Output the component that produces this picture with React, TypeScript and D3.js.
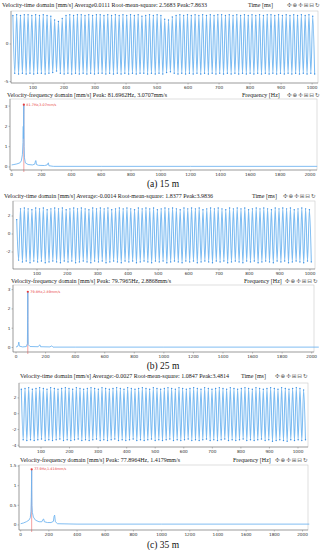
import React from 'react'
import * as d3 from 'd3'

// ---- data ----
const TIME_TICKS = [100, 200, 300, 400, 500, 600, 700, 800, 900, 1000]
const FREQ_TICKS = [0, 200, 400, 600, 800, 1000, 1200, 1400, 1600, 1800, 2000]

// per-cycle extremes of the velocity signal (mm/s)
const peaksA = [
  3.8, 3.9, 3.8, 3.9, 3.9, 3.8, 3.9, 3.8, 3.9, 3.8, 3.7, 3.2, 3.0, 3.4, 3.8, 3.9, 3.8, 3.9, 3.9, 3.8,
  3.9, 3.8, 3.9, 3.9, 3.8, 3.9, 3.8, 3.9, 3.8, 3.9, 3.8, 3.9, 3.8, 3.9, 3.7, 3.8, 3.9, 3.8, 3.9, 3.8,
  3.3, 3.2, 3.6, 3.8, 3.9, 3.8, 3.9, 3.8, 3.9, 3.8, 3.9, 3.8, 3.9, 3.8, 3.9, 3.9, 3.8, 3.9, 3.8, 3.9,
  3.8, 3.9, 3.8, 3.9, 3.8, 3.9, 3.8, 3.9, 3.9, 3.8, 3.9, 3.8, 3.9, 3.8, 3.9, 3.8, 3.9, 3.8, 3.9, 3.7,
]
const troughsA = [
  -3.9, -4.0, -3.9, -4.0, -3.9, -4.0, -3.9, -3.9, -4.0, -3.9, -3.8, -3.6, -3.9, -4.0, -3.9, -4.0, -3.9, -4.0, -3.9, -4.0,
  -3.9, -4.0, -3.9, -3.9, -4.0, -3.9, -4.0, -3.9, -4.0, -3.9, -4.0, -3.9, -4.0, -3.9, -3.9, -4.0, -3.9, -4.0, -3.9, -4.0,
  -3.8, -3.7, -3.9, -4.0, -3.9, -4.0, -3.9, -4.0, -3.9, -4.0, -3.9, -4.0, -3.9, -4.0, -3.9, -4.0, -3.9, -4.0, -3.9, -4.0,
  -3.9, -4.0, -3.9, -4.0, -3.9, -4.0, -3.9, -4.0, -3.9, -4.0, -3.9, -4.0, -3.9, -4.0, -3.9, -4.0, -3.9, -4.0, -3.9, -4.0,
]
const peaksB = [
  1.6, 2.8, 2.9, 2.8, 2.7, 2.9, 2.8, 2.9, 2.7, 2.8, 2.9, 2.8, 2.9, 2.7, 2.8, 2.9, 2.8, 2.9, 2.8, 2.7,
  2.9, 2.8, 2.9, 2.8, 2.9, 2.7, 2.8, 2.9, 2.8, 2.9, 2.8, 2.7, 2.9, 2.8, 2.9, 2.8, 2.9, 2.7, 2.8, 2.9,
  2.8, 2.9, 2.8, 2.7, 2.9, 2.8, 2.9, 2.8, 2.9, 2.7, 2.8, 2.9, 2.8, 2.9, 2.8, 2.7, 2.9, 2.8, 2.9, 2.8,
  2.9, 2.7, 2.8, 2.9, 2.8, 2.9, 2.8, 2.7, 2.9, 2.8, 2.9, 2.8, 2.9, 2.7, 2.8, 2.9, 2.8, 2.7,
]
const troughsB = [
  -2.9, -3.1, -3.0, -3.2, -3.0, -3.1, -3.0, -3.2, -3.1, -3.0, -3.1, -3.2, -3.0, -3.1, -3.0, -3.2, -3.1, -3.0, -3.1, -3.2,
  -3.0, -3.1, -3.0, -3.2, -3.1, -3.0, -3.1, -3.2, -3.0, -3.1, -3.0, -3.2, -3.1, -3.0, -3.1, -3.2, -3.0, -3.1, -3.0, -3.2,
  -3.1, -3.0, -3.1, -3.2, -3.0, -3.1, -3.0, -3.2, -3.1, -3.0, -3.1, -3.2, -3.0, -3.1, -3.0, -3.2, -3.1, -3.0, -3.1, -3.2,
  -3.0, -3.1, -3.0, -3.2, -3.1, -3.0, -3.1, -3.2, -3.0, -3.1, -3.0, -3.2, -3.1, -3.0, -3.1, -3.2, -3.0, -3.1,
]
const peaksC = [
  3.1, 3.2, 3.3, 3.1, 3.2, 3.3, 3.2, 3.1, 3.3, 3.2, 3.1, 3.2, 3.3, 3.2, 3.1, 3.3, 3.2, 3.1, 3.2, 3.3,
  3.2, 3.1, 3.3, 3.2, 3.1, 3.2, 3.3, 3.2, 3.1, 3.3, 3.2, 3.1, 3.2, 3.3, 3.2, 3.1, 3.3, 3.2, 3.1, 3.2,
  3.3, 3.2, 3.1, 3.3, 3.2, 3.1, 3.2, 3.3, 3.2, 3.1, 3.3, 3.2, 3.1, 3.2, 3.3, 3.2, 3.1, 3.3, 3.2, 3.1,
  3.2, 3.3, 3.2, 3.1, 3.3, 3.2, 3.1, 3.2, 3.3, 3.2, 3.1, 3.3, 3.2, 3.1, 3.2, 3.3, 3.2, 3.0,
]
const troughsC = [
  -3.3, -3.4, -3.3, -3.4, -3.3, -3.2, -3.4, -3.3, -3.4, -3.3, -3.2, -3.4, -3.3, -3.4, -3.3, -3.2, -3.4, -3.3, -3.4, -3.3,
  -3.2, -3.4, -3.3, -3.4, -3.3, -3.2, -3.4, -3.3, -3.4, -3.3, -3.2, -3.4, -3.3, -3.4, -3.3, -3.2, -3.4, -3.3, -3.4, -3.3,
  -3.2, -3.4, -3.3, -3.4, -3.3, -3.2, -3.4, -3.3, -3.4, -3.3, -3.2, -3.4, -3.3, -3.4, -3.3, -3.2, -3.4, -3.3, -3.4, -3.3,
  -3.2, -3.4, -3.3, -3.4, -3.3, -3.2, -3.4, -3.3, -3.5, -3.4, -3.3, -3.4, -3.5, -3.3, -3.4, -3.3, -3.4, -3.3,
]

// spectra: [Hz, mm/s]
const specA: [number, number][] = [
  [0, 0.1], [15, 0.12], [35, 0.15], [55, 0.2], [65, 0.3], [72, 0.6], [76, 1.2], [78, 2.0], [79, 1.4], [80.5, 2.6],
  [81.7, 3.07], [82.5, 2.1], [83.5, 1.0], [86, 0.45], [92, 0.2], [110, 0.12], [140, 0.1], [155, 0.14], [160, 0.3],
  [163, 0.32], [166, 0.12], [180, 0.08], [220, 0.07], [238, 0.1], [243, 0.18], [246, 0.2], [250, 0.06], [280, 0.03],
  [600, 0.03], [1200, 0.03], [2048, 0.03],
]
const specB: [number, number][] = [
  [0, 0.03], [10, 0.05], [16, 0.15], [19, 0.28], [23, 0.07], [45, 0.03], [70, 0.05], [77, 0.2], [79, 1.6],
  [79.8, 2.89], [80.7, 1.3], [82.5, 0.15], [95, 0.05], [150, 0.04], [158, 0.12], [162, 0.14], [166, 0.04],
  [230, 0.03], [239, 0.08], [244, 0.07], [250, 0.02], [400, 0.02], [1000, 0.02], [2048, 0.02],
]
const specC: [number, number][] = [
  [0, 0.03], [20, 0.05], [40, 0.08], [58, 0.12], [68, 0.18], [73, 0.35], [75.5, 0.7], [77, 1.1], [77.9, 1.418],
  [78.8, 0.9], [80, 0.5], [83, 0.32], [90, 0.2], [105, 0.12], [130, 0.08], [150, 0.08], [158, 0.14], [163, 0.15],
  [168, 0.08], [190, 0.06], [215, 0.06], [232, 0.09], [237, 0.22], [241, 0.25], [246, 0.08], [262, 0.03],
  [400, 0.02], [1000, 0.02], [2048, 0.02],
]

const FONT_SERIF = 'Liberation Serif, Times New Roman, serif'
const FONT_SANS = 'DejaVu Sans, sans-serif'

type Box = { l: number; r: number; t: number; b: number }

function Toolbar({ x, y }: { x: number; y: number }) {
  return (
    <text x={x} y={y} fontFamily={FONT_SANS} fontSize={5.6} fill="#555" letterSpacing={0.9}>
      ✣⊕✢⊞⊟↻
    </text>
  )
}

function Frame({ box }: { box: Box }) {
  return (
    <rect x={box.l} y={box.t} width={box.r - box.l} height={box.b - box.t}
      fill="#fff" stroke="#c9c9c9" strokeWidth={0.6} />
  )
}

function Axes({ box, x, y, xTicks, yTicks }: any) {
  return (
    <g fontFamily={FONT_SANS} fontSize={4.2} fill="#333">
      <line x1={box.l} x2={box.r} y1={box.b} y2={box.b} stroke="#666" strokeWidth={0.5} />
      <line x1={box.l} x2={box.l} y1={box.t} y2={box.b} stroke="#666" strokeWidth={0.5} />
      {xTicks.map((t: number) => (
        <g key={'x' + t}>
          <line x1={x(t)} x2={x(t)} y1={box.b} y2={box.b + 1.5} stroke="#666" strokeWidth={0.4} />
          <text x={x(t)} y={box.b + 5.5} textAnchor="middle">{t}</text>
        </g>
      ))}
      {yTicks.map((t: number) => (
        <g key={'y' + t}>
          <line x1={box.l - 1.5} x2={box.l} y1={y(t)} y2={y(t)} stroke="#666" strokeWidth={0.4} />
          <text x={box.l - 2.5} y={y(t) + 1.4} textAnchor="end">{t}</text>
        </g>
      ))}
    </g>
  )
}

function TimePanel({ box, xDomain, yDomain, yTicks, peaks, troughs, freq, t0, title, titleX, titleY, unitX, barX }: any) {
  const x = d3.scaleLinear().domain(xDomain).range([box.l, box.r])
  const y = d3.scaleLinear().domain(yDomain).range([box.b, box.t])
  const period = 1000 / freq
  const pts: { t: number; v: number }[] = []
  peaks.forEach((p: number, i: number) => {
    pts.push({ t: t0 + (i + 0.25) * period, v: p })
    pts.push({ t: t0 + (i + 0.75) * period, v: troughs[i] })
  })
  const line = d3.line<{ t: number; v: number }>().x(d => x(d.t)).y(d => y(d.v)).curve(d3.curveMonotoneX)
  return (
    <g>
      <text x={titleX} y={titleY} fontFamily={FONT_SERIF} fontSize={6} fill="#222">{title}</text>
      <text x={unitX} y={titleY} fontFamily={FONT_SERIF} fontSize={6} fill="#222">Time [ms]</text>
      <Toolbar x={barX} y={titleY} />
      <Frame box={box} />
      <path d={line(pts) || ''} fill="none" stroke="#7dbcf2" strokeWidth={1.05} />
      {pts.map((d, i) => (
        <circle key={i} cx={x(d.t)} cy={y(d.v)} r={0.7} fill="#3b8fe2" />
      ))}
      <Axes box={box} x={x} y={y} xTicks={TIME_TICKS} yTicks={yTicks} />
    </g>
  )
}

function FreqPanel({ box, xDomain, yDomain, yTicks, spec, title, titleX, titleY, unitX, barX, caption, captionY }: any) {
  const x = d3.scaleLinear().domain(xDomain).range([box.l, box.r])
  const y = d3.scaleLinear().domain(yDomain).range([box.b, box.t])
  const line = d3.line<[number, number]>().x(d => x(d[0])).y(d => y(d[1]))
  const peak = spec.reduce((a: [number, number], b: [number, number]) => (b[1] > a[1] ? b : a))
  const label = `${peak[0]}Hz,${peak[1]}mm/s`
  return (
    <g>
      <text x={titleX} y={titleY} fontFamily={FONT_SERIF} fontSize={6} fill="#222">{title}</text>
      <text x={unitX} y={titleY} fontFamily={FONT_SERIF} fontSize={6} fill="#222">Frequency [Hz]</text>
      <Toolbar x={barX} y={titleY} />
      <Frame box={box} />
      <line x1={x(peak[0])} x2={x(peak[0])} y1={y(peak[1])} y2={box.b + 2} stroke="#f07a7a" strokeWidth={0.7} />
      <path d={line(spec) || ''} fill="none" stroke="#6cb2f0" strokeWidth={0.85} />
      <circle cx={x(peak[0])} cy={y(peak[1])} r={1.1} fill="#e83a3a" />
      <text x={x(peak[0]) + 2.5} y={y(peak[1]) + 1.2} fontFamily={FONT_SANS} fontSize={3.4} fill="#e83a3a">{label}</text>
      <Axes box={box} x={x} y={y} xTicks={FREQ_TICKS} yTicks={yTicks} />
      <text x={163} y={captionY} textAnchor="middle" fontFamily={FONT_SERIF} fontSize={9.5} fill="#111">{caption}</text>
    </g>
  )
}

export default function App() {
  return (
    <svg width={326} height={550} style={{ position: 'absolute', left: 0, top: 0, background: '#fff' }}>
      <TimePanel box={{ l: 11, r: 318, t: 11, b: 83 }} xDomain={[29, 1019]} yDomain={[-5.2, 4.4]} yTicks={[-5, 0]}
        peaks={peaksA} troughs={troughsA} freq={81.6962} t0={32}
        title="Velocity-time domain [mm/s] Average0.0111 Root-mean-square: 2.5683 Peak:7.8633"
        titleX={2} titleY={6.5} unitX={248} barX={287} />
      <FreqPanel box={{ l: 10, r: 317, t: 99, b: 170 }} xDomain={[-11, 2047]} yDomain={[-0.15, 3.35]} yTicks={[0, 1, 2, 3]}
        spec={specA} title="Velocity-frequency domain [mm/s] Peak: 81.6962Hz, 3.0707mm/s"
        titleX={7} titleY={97} unitX={242} barX={287} caption="(a) 15 m" captionY={187} />

      <TimePanel box={{ l: 13, r: 315, t: 201, b: 269 }} xDomain={[20.9, 1016.5]} yDomain={[-3.89, 3.67]} yTicks={[-2, 0, 2]}
        peaks={peaksB} troughs={troughsB} freq={79.7965} t0={30}
        title="Velocity-time domain [mm/s] Average:-0.0014 Root-mean-square: 1.8377 Peak:3.9836"
        titleX={4} titleY={198} unitX={252} barX={283} />
      <FreqPanel box={{ l: 13, r: 314, t: 285, b: 352 }} xDomain={[-20.3, 2015.5]} yDomain={[-0.233, 3.24]} yTicks={[0, 1, 2, 3]}
        spec={specB} title="Velocity-frequency domain [mm/s] Peak: 79.7965Hz, 2.8868mm/s"
        titleX={11} titleY={283} unitX={244} barX={285} caption="(b) 25 m" captionY={368.5} />

      <TimePanel box={{ l: 19, r: 308, t: 383, b: 447 }} xDomain={[23, 1035]} yDomain={[-4.22, 3.89]} yTicks={[-4, -2, 0, 2]}
        peaks={peaksC} troughs={troughsC} freq={77.8964} t0={28}
        title="Velocity-time domain [mm/s] Average:-0.0027 Root-mean-square: 1.0847 Peak:3.4814"
        titleX={20} titleY={378} unitX={241} barX={275} />
      <FreqPanel box={{ l: 19, r: 308, t: 465, b: 530 }} xDomain={[-12, 2039]} yDomain={[-0.13, 1.527]} yTicks={[0, 0.5, 1, 1.5]}
        spec={specC} title="Velocity-frequency domain [mm/s] Peak: 77.8964Hz, 1.4179mm/s"
        titleX={20} titleY={462} unitX={233} barX={275} caption="(c) 35 m" captionY={547.5} />
    </svg>
  )
}
